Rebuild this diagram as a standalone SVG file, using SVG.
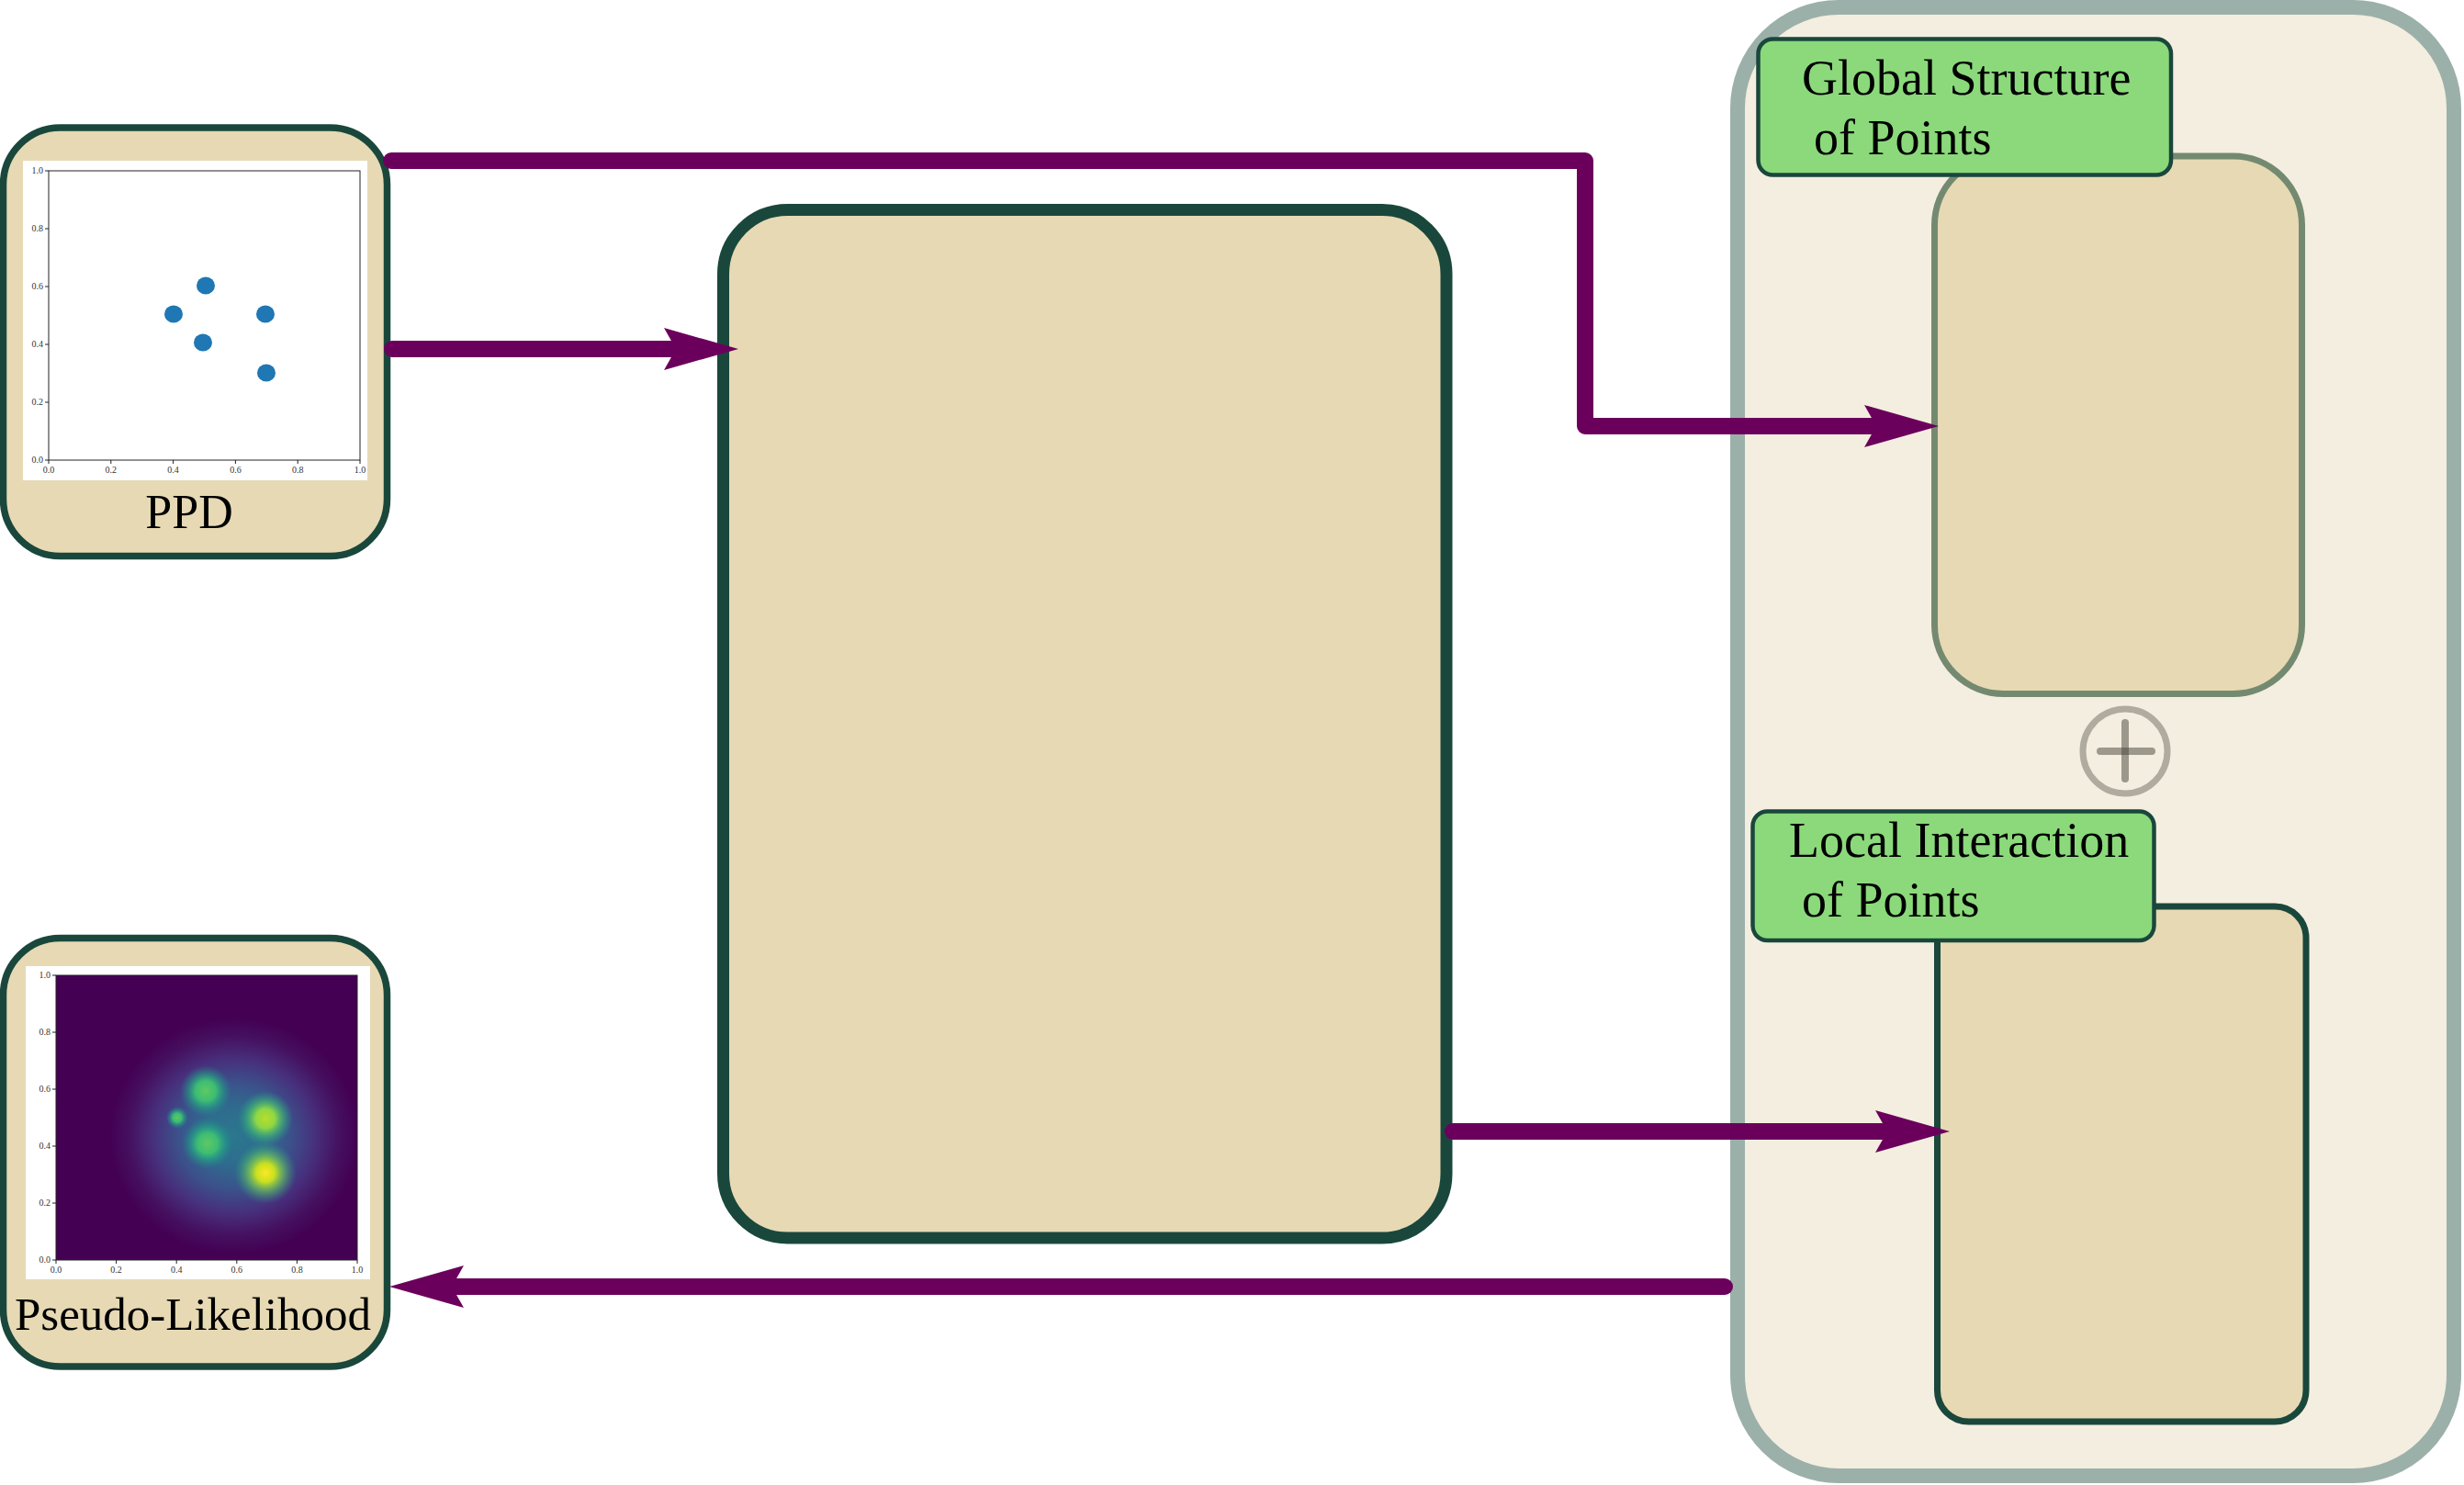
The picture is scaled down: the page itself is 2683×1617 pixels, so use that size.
<svg xmlns="http://www.w3.org/2000/svg" width="2683" height="1617" viewBox="0 0 2683 1617">
<defs>
<style>
.node{fill:#e6d9b4;stroke:#1a473c;stroke-width:7.5}
.big{fill:#e6d9b4;stroke:#1a473c;stroke-width:13}
.lbl{fill:#8bd97b;stroke:#1a473c;stroke-width:4.5}
.t{font-family:"Liberation Serif","Times New Roman",serif;fill:#000}
.tick{font-family:"Liberation Serif","Times New Roman",serif;font-size:10px;fill:#333}
.tx{text-anchor:middle}
.ty{text-anchor:end}
.conn{fill:none;stroke:#6b005c;stroke-width:18;stroke-linecap:round;stroke-linejoin:round;marker-end:url(#ah)}
.ax{fill:none;stroke:#222;stroke-width:1}
.dot{fill:#1f77b4}
</style>
<marker id="ah" markerUnits="userSpaceOnUse" orient="auto" refX="0" refY="0" markerWidth="120" markerHeight="60" viewBox="-20 -30 120 60" overflow="visible">
<path d="M68,0 L-13,-23 L0,0 L-13,23 Z" fill="#6b005c"/>
</marker>
<radialGradient id="halo">
<stop offset="0" stop-color="#2a788e"/>
<stop offset="0.25" stop-color="#2f6b8e"/>
<stop offset="0.45" stop-color="#3b528b"/>
<stop offset="0.65" stop-color="#47307d"/>
<stop offset="0.85" stop-color="#45105f"/>
<stop offset="1" stop-color="#440154"/>
</radialGradient>
<radialGradient id="gY">
<stop offset="0" stop-color="#fde725"/>
<stop offset="0.3" stop-color="#c8e020"/>
<stop offset="0.6" stop-color="#6ece58" stop-opacity="0.6"/>
<stop offset="1" stop-color="#22a884" stop-opacity="0"/>
</radialGradient>
<radialGradient id="gL">
<stop offset="0" stop-color="#b5de2b"/>
<stop offset="0.35" stop-color="#8fd744"/>
<stop offset="0.65" stop-color="#44bf70" stop-opacity="0.6"/>
<stop offset="1" stop-color="#22a884" stop-opacity="0"/>
</radialGradient>
<radialGradient id="gG">
<stop offset="0" stop-color="#5ec962"/>
<stop offset="0.4" stop-color="#3dbc74"/>
<stop offset="0.7" stop-color="#22a884" stop-opacity="0.5"/>
<stop offset="1" stop-color="#21918c" stop-opacity="0"/>
</radialGradient>
<clipPath id="hmclip"><rect x="61" y="1062" width="328" height="310"/></clipPath>
</defs>
<rect width="2683" height="1617" fill="#ffffff"/>

<g id="right-panel">
<rect x="1892" y="8" width="780" height="1599" rx="110" fill="#f4eee0" stroke="#9cb0aa" stroke-width="16"/>
</g>

<g id="global-structure-box">
<rect x="2106.5" y="170" width="400" height="585.5" rx="75" fill="#e6d9b4" stroke="#748a70" stroke-width="7"/>
</g>

<g id="global-structure-label">
<rect class="lbl" x="1914.5" y="42.5" width="449.5" height="148" rx="16"/>
<text class="t" x="1962" y="103" font-size="54">Global Structure</text>
<text class="t" x="1975" y="168" font-size="54">of Points</text>
</g>

<g id="plus">
<circle cx="2314" cy="818" r="46" fill="none" stroke="#b0ab9f" stroke-width="7"/>
<g stroke="#464238" stroke-opacity="0.5" stroke-width="8" stroke-linecap="round">
<line x1="2314" y1="787" x2="2314" y2="848"/>
<line x1="2287" y1="818" x2="2343" y2="818"/>
</g>
</g>

<g id="local-interaction-box">
<rect x="2109.5" y="987" width="401.5" height="561" rx="34" fill="#e6d9b4" stroke="#1a473c" stroke-width="7"/>
</g>

<g id="local-interaction-label">
<rect class="lbl" x="1908.5" y="883.5" width="437" height="140.5" rx="16"/>
<text class="t" x="1948" y="933" font-size="54">Local Interaction</text>
<text class="t" x="1962" y="998" font-size="54">of Points</text>
</g>

<g id="middle-box">
<rect class="big" x="787.5" y="228.5" width="787.5" height="1119.5" rx="70"/>
</g>

<g id="ppd">
<rect class="node" x="3.5" y="139" width="418" height="466.5" rx="62"/>
<rect x="25" y="175" width="375" height="348" fill="#ffffff"/>
<rect class="ax" x="53" y="186" width="339" height="315"/>
<g class="ax">
<path d="M53,501V505M120.8,501V505M188.6,501V505M256.4,501V505M324.2,501V505M392,501V505"/>
<path d="M53,501H49M53,438H49M53,375H49M53,312H49M53,249H49M53,186H49"/>
</g>
<g class="tick tx">
<text x="53" y="515">0.0</text><text x="120.8" y="515">0.2</text><text x="188.6" y="515">0.4</text>
<text x="256.4" y="515">0.6</text><text x="324.2" y="515">0.8</text><text x="392" y="515">1.0</text>
</g>
<g class="tick ty">
<text x="47" y="504">0.0</text><text x="47" y="441">0.2</text><text x="47" y="378">0.4</text>
<text x="47" y="315">0.6</text><text x="47" y="252">0.8</text><text x="47" y="189">1.0</text>
</g>
<ellipse class="dot" cx="224" cy="311" rx="10" ry="9.5"/>
<ellipse class="dot" cx="189" cy="342" rx="10" ry="9.5"/>
<ellipse class="dot" cx="221" cy="373" rx="10" ry="9.5"/>
<ellipse class="dot" cx="289" cy="342" rx="10" ry="9.5"/>
<ellipse class="dot" cx="290" cy="406" rx="10" ry="9.5"/>
<text class="t" x="206" y="575" font-size="52" text-anchor="middle">PPD</text>
</g>

<g id="pseudo-likelihood">
<rect class="node" x="3.5" y="1021.5" width="418" height="466.5" rx="62"/>
<rect x="28" y="1052" width="375" height="341" fill="#ffffff"/>
<g clip-path="url(#hmclip)">
<rect x="61" y="1062" width="328" height="310" fill="#440154"/>
<ellipse cx="255" cy="1237" rx="135" ry="128" fill="url(#halo)"/>
<circle cx="224" cy="1188" r="28" fill="url(#gG)"/>
<circle cx="226" cy="1245" r="28" fill="url(#gG)"/>
<circle cx="193" cy="1217" r="12" fill="url(#gG)"/>
<circle cx="289" cy="1218" r="30" fill="url(#gL)"/>
<circle cx="289" cy="1277" r="34" fill="url(#gY)"/>
</g>
<rect class="ax" x="61" y="1062" width="328" height="310"/>
<g class="ax">
<path d="M61,1372V1376M126.6,1372V1376M192.2,1372V1376M257.8,1372V1376M323.4,1372V1376M389,1372V1376"/>
<path d="M61,1372H57M61,1310H57M61,1248H57M61,1186H57M61,1124H57M61,1062H57"/>
</g>
<g class="tick tx">
<text x="61" y="1386">0.0</text><text x="126.6" y="1386">0.2</text><text x="192.2" y="1386">0.4</text>
<text x="257.8" y="1386">0.6</text><text x="323.4" y="1386">0.8</text><text x="389" y="1386">1.0</text>
</g>
<g class="tick ty">
<text x="55" y="1375">0.0</text><text x="55" y="1313">0.2</text><text x="55" y="1251">0.4</text>
<text x="55" y="1189">0.6</text><text x="55" y="1127">0.8</text><text x="55" y="1065">1.0</text>
</g>
<text class="t" x="210" y="1448" font-size="51" text-anchor="middle">Pseudo-Likelihood</text>
</g>

<g id="connectors">
<path class="conn" d="M426,175 H1726 V464 H2043"/>
<path class="conn" d="M427,380 H736"/>
<path class="conn" d="M1582,1232 H2055"/>
<path class="conn" d="M1878,1401 H492"/>
</g>
</svg>
